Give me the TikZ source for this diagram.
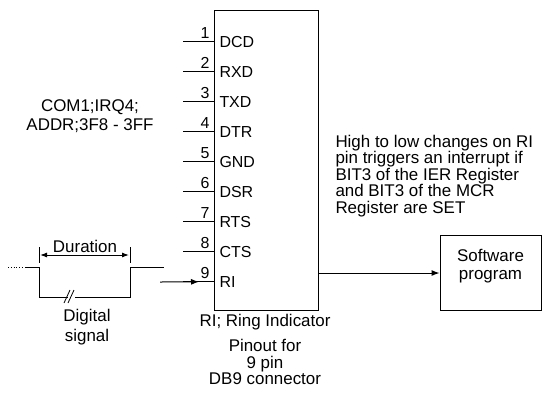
\documentclass[tikz,border=0pt]{standalone}
\usepackage{fontspec}
\setmainfont{Liberation Sans}
\usetikzlibrary{arrows.meta}
\begin{document}
\begin{tikzpicture}[x=1bp,y=-1bp,line width=1bp,
  txt/.style={font=\fontsize{17}{16.5}\selectfont, inner sep=0pt},
  pintxt/.style={font=\fontsize{16}{16}\selectfont, inner sep=0pt},
  arr/.style={-{Latex[length=8bp,width=6bp]}},
  darr/.style={{Latex[length=7bp,width=5bp]}-{Latex[length=7bp,width=5bp]}},
]
\useasboundingbox (0,0) rectangle (543,401);
% connector body
\node[draw, minimum width=104bp, minimum height=300bp, inner sep=0pt, anchor=north west] (conn) at (214,10) {};
% pins
\foreach \n/\lab in {1/DCD,2/RXD,3/TXD,4/DTR,5/GND,6/DSR,7/RTS,8/CTS,9/RI}{
  \coordinate (p\n) at (183,{41+30.1*(\n-1)});
  \coordinate (q\n) at (conn.west |- p\n);
  \draw (p\n) -- (q\n);
  \node[pintxt, anchor=base east] (d\n) at ([xshift=-4bp,yshift=3bp]q\n) {\n};
  \node[pintxt, anchor=base west] (l\n) at ([xshift=5bp,yshift=-6bp]q\n) {\lab};
}
% pin 9 input arrow
\coordinate (in9) at (160,282);
\draw[arr] (in9) -- ([xshift=-15bp]q9);
% COM text
\node[txt, align=center] (com) at (90,116) {COM1;IRQ4;\\[3bp]ADDR;3F8 - 3FF};
% right description
\node[txt, align=left, anchor=north west] (desc) at (335,134.5) {High to low changes on RI\\pin triggers an interrupt if\\BIT3 of the IER Register\\and BIT3 of the MCR\\Register are SET};
% software box
\node[draw, minimum width=101bp, minimum height=75bp, inner sep=0pt] (sw) at (490.5,273) {};
\node[txt, align=center] (swtxt) at (490.5,266) {Software\\[1bp]program};
\draw[arr] (conn.east |- sw.west) -- (sw.west);
% bottom labels
\node[txt] (ri) at (265,322) {RI; Ring Indicator};
\node[txt, align=center, anchor=north] (pinout) at (265,339) {Pinout for\\9 pin\\DB9 connector};
% digital signal
\coordinate (s0) at (8,267);
\coordinate (s1) at (25,267);
\coordinate (s2) at (39,267);
\coordinate (s3) at (39,297);
\coordinate (b1) at (68,297);
\coordinate (b2) at (75,297);
\coordinate (s4) at (130,297);
\coordinate (s5) at (130,267);
\coordinate (s6) at (164,267);
\draw[dotted, line width=0.8bp] (s0) -- (s1);
\draw (s1) -- (s2) -- (s3) -- (b1);
\draw (b2) -- (s4) -- (s5) -- (s6);
\draw[line width=0.8bp] ([xshift=-4bp,yshift=-6bp]b1) -- ([xshift=2bp,yshift=7bp]b1);
\draw[line width=0.8bp] ([xshift=0bp,yshift=-6bp]b1) -- ([xshift=6bp,yshift=7bp]b1);
% duration
\coordinate (t1a) at (39,247);
\coordinate (t1b) at (39,263);
\coordinate (t2a) at (130,247);
\coordinate (t2b) at (130,263);
\draw[line width=0.8bp] (t1a) -- (t1b);
\draw[line width=0.8bp] (t2a) -- (t2b);
\coordinate (dl) at (40,255);
\coordinate (dr) at (129,255);
\draw[darr] (dl) -- (dr);
\node[txt, anchor=base] (dur) at (85,252) {Duration};
\node[txt, align=center] (dig) at (87,327) {Digital\\[3bp]signal};
\end{tikzpicture}
\end{document}
